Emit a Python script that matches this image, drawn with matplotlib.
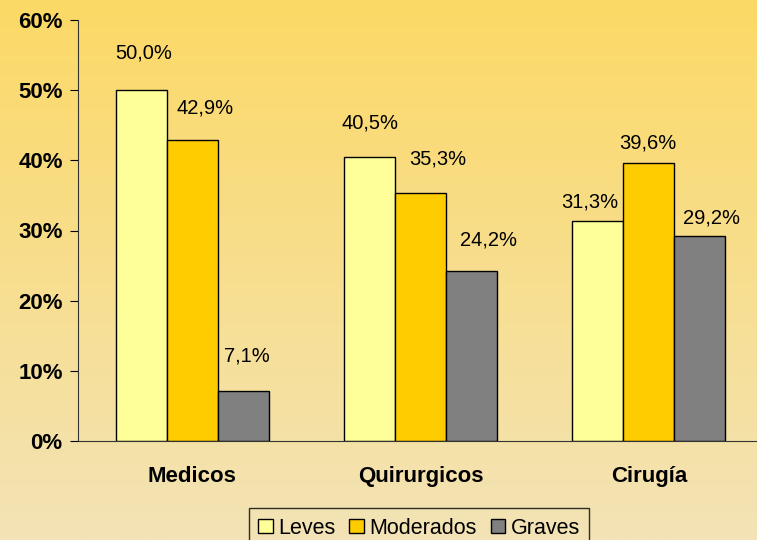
import matplotlib.pyplot as plt
import numpy as np
from matplotlib.colors import LinearSegmentedColormap

plt.rcParams['font.family'] = ['Liberation Sans', 'DejaVu Sans']

# Data
categories = ['Medicos', 'Quirurgicos', 'Cirugía']
leves = [50.0, 40.5, 31.3]
moderados = [42.9, 35.3, 39.6]
graves = [7.1, 24.2, 29.2]
series_names = ['Leves', 'Moderados', 'Graves']
series_colors = ['#FFFF99', '#FFCC00', '#808080']
yticks = [0, 10, 20, 30, 40, 50, 60]

# label nudges (pixels) to mimic the original placement
label_dx = [[2, 0, -8], [13, 17, -1], [4, 17, 12]]
label_dy = [[37, 34, 19], [32, 34, 20], [35, 31, 18]]

fig = plt.figure(figsize=(7.57, 5.4), dpi=100)

# background gradient
bg = fig.add_axes([0, 0, 1, 1], zorder=-10)
grad = np.linspace(0, 1, 256).reshape(-1, 1)
cmap = LinearSegmentedColormap.from_list('bg', ['#FCD966', '#F3E3B6'])
bg.imshow(grad, aspect='auto', cmap=cmap, extent=[0, 1, 0, 1], origin='upper')
bg.axis('off')

ax = fig.add_axes([78 / 757, 1 - 441 / 540, 685 / 757, 421 / 540])
ax.patch.set_alpha(0)

x = np.arange(len(categories))
w = 0.223
all_series = [leves, moderados, graves]
for i, (vals, name, col) in enumerate(zip(all_series, series_names, series_colors)):
    pos = x + (i - 1) * w
    ax.bar(pos, vals, width=w, color=col, edgecolor='black', linewidth=1, label=name)
    for j, v in enumerate(vals):
        ax.annotate(f'{v:.1f}%'.replace('.', ','), (pos[j], v),
                    xytext=(label_dx[i][j] * 0.72, label_dy[i][j] * 0.72),
                    textcoords='offset points', ha='center', va='center', fontsize=14.5)

ax.set_xlim(-0.5, 2.5)
ax.set_ylim(0, 60)
ax.set_yticks(yticks)
ax.set_yticklabels([f'{t}%' for t in yticks], fontsize=16, fontweight='bold')
ax.set_xticks(x)
ax.set_xticklabels(categories, fontsize=16, fontweight='bold')
ax.tick_params(axis='x', length=0, pad=18)
ax.tick_params(axis='y', length=6, pad=5, direction='out')
for s in ['top', 'right']:
    ax.spines[s].set_visible(False)
for s in ['left', 'bottom']:
    ax.spines[s].set_color('#333333')

fig.legend(loc='upper center', bbox_to_anchor=(419 / 757, 1 - 508 / 540), ncol=3,
           fontsize=15.5, frameon=True, fancybox=False, edgecolor='black',
           facecolor='none', handlelength=0.67, handleheight=0.67, handletextpad=0.25,
           columnspacing=0.65, borderpad=0.45, borderaxespad=0)

plt.savefig('out.png', dpi=100)
